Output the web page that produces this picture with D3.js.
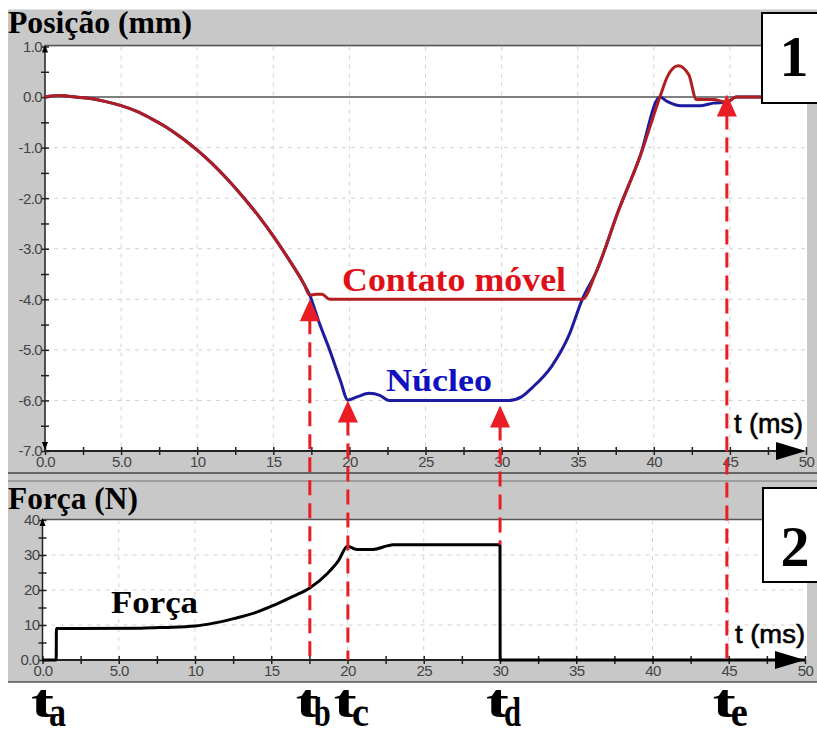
<!DOCTYPE html>
<html>
<head>
<meta charset="utf-8">
<script src="https://cdn.jsdelivr.net/npm/d3@7"></script>
<style>
body { margin: 0; background: #fff; }
svg { display: block; }
</style>
</head>
<body>
<div id="chart"></div>
<script>
const width = 817;
const height = 730;
const serif = "'Liberation Serif', 'Times New Roman', serif";
const sans = "'Liberation Sans', Arial, sans-serif";
const gray = '#c8c8c8';
const eventRed = '#ea1c24';

// time axis (ms)
const timeTicks = d3.range(0, 50.1, 2.5);
const posTicks = d3.range(-7, 1.01, 0.5);
const forceTicks = d3.range(0, 40.1, 5);

// Posição (mm) - contato móvel
const contatoT = [0, 0.9, 2, 3, 4, 5, 6, 7, 8, 9, 10, 11, 12, 13, 14, 15, 16, 17, 17.4, 17.8, 18.2, 18.7,
    35.3, 36.2, 37.7, 39.1, 40.4, 40.9, 41.6, 42.3, 42.8, 43.9, 44.8, 45.4, 50];
const contatoV = [0, 0.03, 0, -0.03, -0.09, -0.17, -0.28, -0.43, -0.6, -0.81, -1.05, -1.32, -1.63, -1.97, -2.34, -2.75, -3.2, -3.69, -3.92, -3.9, -3.9, -4.0,
    -4.0, -3.47, -2.23, -1.17, 0, 0.41, 0.62, 0.44, -0.05, -0.05, -0.1, 0, 0];

// Posição (mm) - núcleo
const nucleoT = [0, 0.9, 2, 3, 4, 5, 6, 7, 8, 9, 10, 11, 12, 13, 14, 15, 16, 17, 17.4, 18.0, 18.7, 19.4, 19.9,
    20.5, 21.3, 22.0, 22.6, 30.5, 31.3, 32.0, 33.3, 34.4, 35.3, 36.2, 37.7, 39.1, 40.4,
    40.9, 41.8, 43.1, 43.9, 44.8, 45.4, 50];
const nucleoV = [0, 0.03, 0, -0.03, -0.09, -0.17, -0.28, -0.43, -0.6, -0.81, -1.05, -1.32, -1.63, -1.97, -2.34, -2.75, -3.2, -3.69, -3.92, -4.45, -5.0, -5.6, -5.99,
    -5.93, -5.86, -5.9, -6.0, -6.0, -5.93, -5.75, -5.32, -4.73, -4.0, -3.47, -2.23, -1.17, 0,
    -0.09, -0.17, -0.17, -0.12, -0.1, 0, 0];

// Força (N)
const forceT = [0, 0.9, 0.91, 6.5, 8, 10, 11.3, 12.6, 14, 15.2, 16.5, 17.5, 18.7, 19.4, 20.0,
    20.6, 21.7, 22.6, 23.0, 30.0, 30.01, 50];
const forceV = [0, 0, 9.0, 9.1, 9.3, 9.7, 10.6, 11.9, 13.6, 15.7, 18.3, 20.5, 24.8, 28.3, 32.5,
    31.6, 31.6, 32.6, 32.9, 32.9, 0, 0];

// instantes t_a ... t_e and where each arrow points on the position chart
const eventT = [0, 17.4, 19.9, 29.9, 44.8];
const eventNames = ['a', 'b', 'c', 'd', 'e'];
const arrowTips = [null, -4.0, -6.0, -6.1, 0.05];

const svg = d3.select('#chart').append('svg')
    .attr('width', width)
    .attr('height', height);

const xTop = d3.scaleLinear().domain([0, 50]).range([45, 806]);
const yTop = d3.scaleLinear().domain([-7, 1]).range([451, 46.5]);
const xBot = d3.scaleLinear().domain([0, 50]).range([42.5, 805]);
const yBot = d3.scaleLinear().domain([0, 40]).range([660, 520]);

// panel backgrounds
svg.append('rect').attr('x', 8).attr('y', 9).attr('width', width - 8).attr('height', 464).attr('fill', gray);
svg.append('rect').attr('x', 8).attr('y', 473).attr('width', width - 8).attr('height', 209).attr('fill', gray);
svg.append('line').attr('x1', 8).attr('x2', width).attr('y1', 9.5).attr('y2', 9.5).attr('stroke', '#e2e2e2');
svg.append('rect').attr('x', xTop(0)).attr('y', yTop(1)).attr('width', xTop(50) - xTop(0) + 1)
    .attr('height', yTop(-7) - yTop(1)).attr('fill', '#fff');
svg.append('rect').attr('x', xBot(0)).attr('y', yBot(40)).attr('width', xBot(50) - xBot(0) + 2)
    .attr('height', yBot(0) - yBot(40)).attr('fill', '#fff');

const hline = (y, x1, x2, color, w) => svg.append('line')
    .attr('x1', x1).attr('x2', x2).attr('y1', y).attr('y2', y)
    .attr('stroke', color).attr('stroke-width', w);
hline(45.5, 45, width, '#555', 1.5);
hline(473, 8, width, '#444', 1.5);
hline(481, 8, width, '#777', 1);
hline(519.5, 42, width, '#555', 1.5);
hline(682, 8, width, '#555', 1.5);

// grids
const grid = svg.append('g').attr('stroke', '#d2d2d2').attr('stroke-width', 1).attr('stroke-dasharray', '4,5');
grid.selectAll('.vt').data(d3.range(5, 46, 5)).join('line')
    .attr('x1', d => xTop(d)).attr('x2', d => xTop(d)).attr('y1', yTop(1)).attr('y2', yTop(-7));
grid.selectAll('.ht').data(d3.range(-6, -0.5, 1)).join('line').attr('class', 'ht')
    .attr('x1', xTop(0)).attr('x2', xTop(50)).attr('y1', d => yTop(d)).attr('y2', d => yTop(d));
grid.selectAll('.vb').data(d3.range(5, 46, 5)).join('line').attr('class', 'vb')
    .attr('x1', d => xBot(d)).attr('x2', d => xBot(d)).attr('y1', yBot(40)).attr('y2', yBot(0));
grid.selectAll('.hb').data([10, 20, 30]).join('line').attr('class', 'hb')
    .attr('x1', xBot(0)).attr('x2', xBot(50)).attr('y1', d => yBot(d)).attr('y2', d => yBot(d));

// zero line of the position chart
hline(yTop(0), xTop(0), width, '#555', 1.5);

// axes
const fmtTime = d => d % 5 ? '' : (d < 10 ? d.toFixed(1) : String(d));
const fmtPos = d => Number.isInteger(d) ? d.toFixed(1) : '';
const fmtForce = d => d === 0 ? '0.0' : (d % 10 ? '' : String(d));

const styleAxis = (g, horizontal) => {
    g.select('.domain').remove();
    g.attr('font-family', sans).attr('font-size', 15);
    g.selectAll('.tick text').attr('fill', '#444').attr('letter-spacing', -0.6);
    g.selectAll('.tick line').attr('stroke', '#222').attr('stroke-width', 1.5)
        .attr(horizontal ? 'y1' : 'x1', -4).attr(horizontal ? 'y2' : 'x2', 4);
};

const drawAxes = (x, y, yTicks, yFmt, xLabelPad) => {
    const gx = svg.append('g')
        .attr('transform', `translate(0,${y.range()[0]})`)
        .call(d3.axisBottom(x).tickValues(timeTicks).tickFormat(fmtTime).tickSize(0).tickPadding(xLabelPad));
    styleAxis(gx, true);
    const gy = svg.append('g')
        .attr('transform', `translate(${x(0)},0)`)
        .call(d3.axisLeft(y).tickValues(yTicks).tickFormat(yFmt).tickSize(0).tickPadding(3));
    styleAxis(gy, false);

    const x0 = x(0), y0 = y.range()[0], y1 = y.range()[1], xEnd = x.range()[1];
    svg.append('line').attr('x1', x0).attr('x2', xEnd - 20).attr('y1', y0).attr('y2', y0)
        .attr('stroke', '#222').attr('stroke-width', 2);
    svg.append('line').attr('x1', x0).attr('x2', x0).attr('y1', y1).attr('y2', y0)
        .attr('stroke', '#222').attr('stroke-width', 1.5);
    // arrow heads
    svg.append('path').attr('d', `M${xEnd},${y0}L${xEnd - 30},${y0 - 9}L${xEnd - 30},${y0 + 9}Z`).attr('fill', '#000');
    svg.append('path').attr('d', `M${x0},${y1 - 2}L${x0 - 3},${y1 + 6}L${x0 + 3},${y1 + 6}Z`).attr('fill', '#000');
};

drawAxes(xTop, yTop, posTicks, fmtPos, 5);
drawAxes(xBot, yBot, forceTicks, fmtForce, 5);
// down arrow at the bottom of the position axis
svg.append('path')
    .attr('d', `M${xTop(0)},${yTop(-7) - 1}L${xTop(0) - 3},${yTop(-7) - 9}L${xTop(0) + 3},${yTop(-7) - 9}Z`)
    .attr('fill', '#000');

// series
const posLine = d3.line().x(d => xTop(d[0])).y(d => yTop(d[1])).curve(d3.curveMonotoneX);
svg.append('path').datum(d3.zip(nucleoT, nucleoV)).attr('d', posLine)
    .attr('fill', 'none').attr('stroke', '#1c1ca0').attr('stroke-width', 3);
svg.append('path').datum(d3.zip(contatoT, contatoV)).attr('d', posLine)
    .attr('fill', 'none').attr('stroke', '#b01e22').attr('stroke-width', 3);

const forceLine = d3.line().x(d => xBot(d[0])).y(d => yBot(d[1])).curve(d3.curveMonotoneX);
svg.append('path').datum(d3.zip(forceT, forceV)).attr('d', forceLine)
    .attr('fill', 'none').attr('stroke', '#000').attr('stroke-width', 3);

// event markers: dashed verticals and arrows
const events = d3.zip(eventT, arrowTips).slice(1);
const forceAt = t => yBot(d3.max(forceV.filter((v, i) => Math.abs(forceT[i] - t) < 0.2)) || 0);
events.forEach(([t, tip], i) => {
    const x = xTop(t);
    const yTip = yTop(tip);
    const yEnd = i === 2 ? forceAt(30) : yBot(0);
    svg.append('line').attr('x1', x).attr('x2', x).attr('y1', yTip + 20).attr('y2', yEnd)
        .attr('stroke', eventRed).attr('stroke-width', 3).attr('stroke-dasharray', '15,8');
    svg.append('path').attr('d', `M${x},${yTip}L${x - 10},${yTip + 22}L${x + 10},${yTip + 22}Z`)
        .attr('fill', eventRed);
});

// texts
const label = (txt, x, y, size, color, len, family = serif, weight = 'bold') => {
    const t = svg.append('text').attr('x', x).attr('y', y)
        .attr('font-family', family).attr('font-size', size).attr('font-weight', weight)
        .attr('fill', color).text(txt);
    if (len) t.attr('textLength', len).attr('lengthAdjust', 'spacingAndGlyphs');
    return t;
};
label('Posição (mm)', 8, 33, 31, '#000', 184);
label('Força (N)', 8, 509, 31, '#000', 130);
label('Contato móvel', 342, 291, 33, '#e01018', 224);
label('Núcleo', 386, 391, 32, '#1010c0', 106);
label('Força', 111, 613, 32, '#000', 87);
label('t (ms)', 734, 433, 27, '#000', 69, sans, 'normal').attr('stroke', '#000').attr('stroke-width', 0.6);
label('t (ms)', 735, 643, 26, '#000', 70, sans, 'normal').attr('stroke', '#000').attr('stroke-width', 0.6);

// panel number boxes
const box = (num, x, y, w, h, baseline) => {
    svg.append('rect').attr('x', x).attr('y', y).attr('width', w).attr('height', h)
        .attr('fill', '#fff').attr('stroke', '#000').attr('stroke-width', 2);
    svg.append('text').attr('x', x + w / 2 + 4).attr('y', baseline).attr('text-anchor', 'middle')
        .attr('font-family', serif).attr('font-weight', 'bold').attr('font-size', 58).text(num);
};
box('1', 762, 13, 56, 90, 76);
box('2', 763, 488, 56, 94, 566);

// t_a ... t_e under the force chart
eventT.forEach((t, i) => {
    const x = xTop(t) - 14;
    label('t', x, 717, 47, '#000', 23);
    label(eventNames[i], x + 18, 726, 42, '#000', 17);
});
</script>
</body>
</html>
